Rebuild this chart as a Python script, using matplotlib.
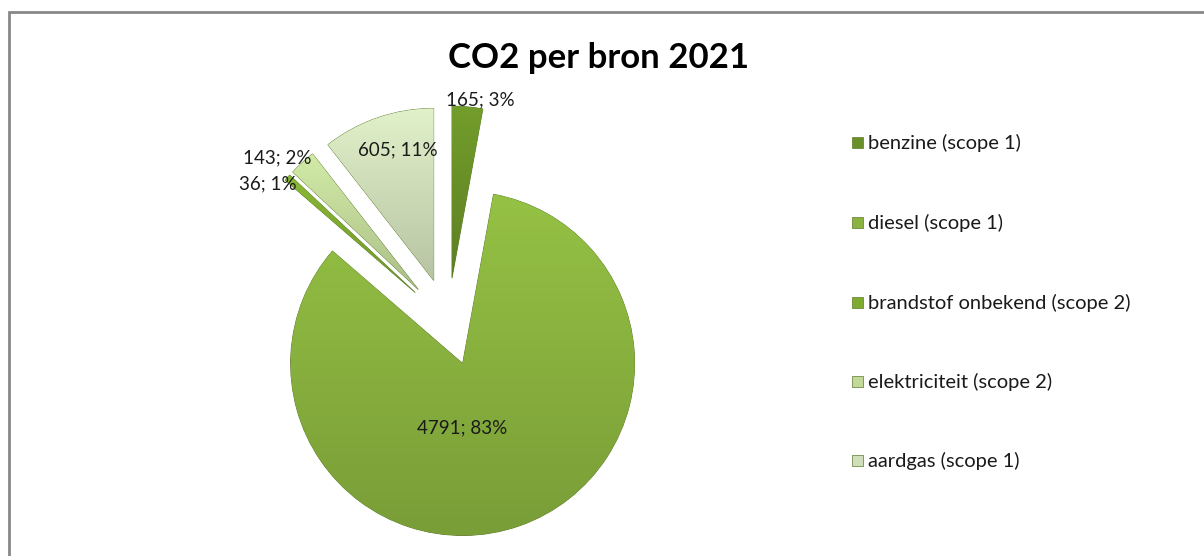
import numpy as np
import matplotlib.pyplot as plt
from matplotlib.colors import to_rgb
from matplotlib.patches import Rectangle

plt.rcParams['font.family'] = ['Lato', 'DejaVu Sans']

labels = ['benzine (scope 1)', 'diesel (scope 1)', 'brandstof onbekend (scope 2)',
          'elektriciteit (scope 2)', 'aardgas (scope 1)']
values = [165, 4791, 36, 143, 605]
colors = ['#6a9128', '#8ab33f', '#7fab30', '#c2d99a', '#d0dfba']
label_pos = [(480, 100), (462, 428), (268, 184), (277, 158), (398, 150)]

W, H = 1204, 556
fig = plt.figure(figsize=(W / 100, H / 100), dpi=100)
ax = fig.add_axes([0, 0, 1, 1])

# explode is in data units here (pixels)
wedges, _ = ax.pie(values, colors=colors, startangle=90, counterclock=False,
                   center=(448, H - 322), radius=172, explode=[44] * len(values),
                   wedgeprops=dict(edgecolor='#5d7a2a', linewidth=0.6))

# soft vertical shading inside each slice
for w, c in zip(wedges, colors):
    bb = w.get_path().get_extents(w.get_patch_transform())
    base = np.array(to_rgb(c))
    t = np.linspace(0, 1, 64)[:, None]
    grad = base * (1.08 - 0.2 * t)
    grad = np.clip(grad, 0, 1)[:, None, :].repeat(2, axis=1)
    im = ax.imshow(grad, extent=[bb.x0, bb.x1, bb.y0, bb.y1], origin='upper',
                   aspect='auto', zorder=w.get_zorder() + 0.1, interpolation='bilinear')
    im.set_clip_path(w)

total = sum(values)
for v, (x, y) in zip(values, label_pos):
    ax.text(x, H - y, f'{v}; {round(v / total * 100)}%', ha='center', va='center',
            fontsize=13.5, color='#1a1a1a', zorder=10)

ax.text(598, H - 58, 'CO2 per bron 2021', ha='center', va='center',
        fontsize=25, fontweight='bold', color='black')

leg_y = [143, 223, 303, 382, 461]
for lab, c, y in zip(labels, colors, leg_y):
    ax.add_patch(Rectangle((852, H - y - 5), 11, 11, facecolor=c, edgecolor='#5d7a2a',
                           linewidth=0.5, zorder=10))
    ax.text(868, H - y, lab, ha='left', va='center', fontsize=14.5, color='#1a1a1a')

ax.add_patch(Rectangle((9, -20), 1220, H - 12 + 20, facecolor='none',
                       edgecolor='#888888', linewidth=2, zorder=20))

ax.set_xlim(0, W)
ax.set_ylim(0, H)
ax.axis('off')
fig.savefig('out.png', dpi=100)
